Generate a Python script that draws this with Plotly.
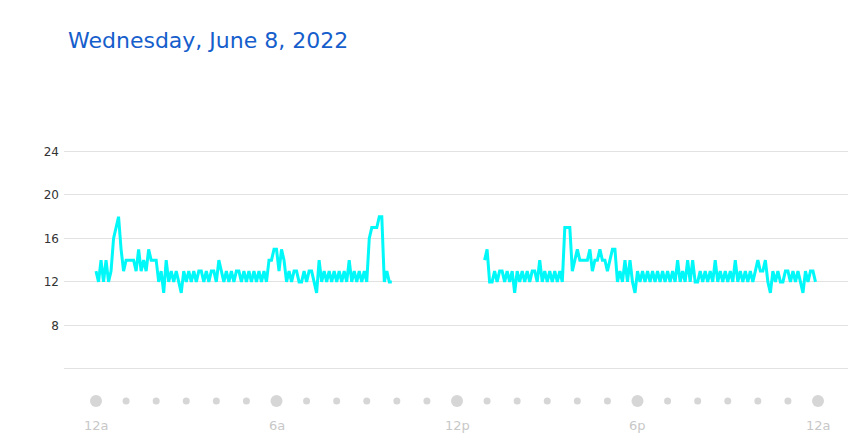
import plotly.graph_objects as go

# ---- data (5-minute readings) ----
seg1_start_hour = 0.0          # 12:00a
seg1_values = [
    13, 12, 14, 12, 14, 12, 13, 16, 17, 18,
    15, 13, 14, 14, 14, 14, 13, 15, 13, 14,
    13, 15, 14, 14, 14, 12, 13, 11, 14, 12,
    13, 12, 13, 12, 11, 13, 12, 13, 12, 13,
    12, 13, 13, 12, 13, 12, 13, 13, 12, 14,
    13, 12, 13, 12, 13, 12, 13, 13, 12, 13,
    12, 13, 12, 13, 12, 13, 12, 13, 12, 14,
    14, 15, 15, 13, 15, 14, 12, 13, 12, 13,
    13, 12, 12, 13, 12, 13, 13, 12, 11, 14,
    12, 13, 12, 13, 12, 13, 12, 13, 12, 13,
    12, 14, 12, 13, 12, 13, 12, 13, 12, 16,
    17, 17, 17, 18, 18, 12, 13, 12, 12,
]
seg2_start_hour = 12 + 55 / 60  # 12:55p
seg2_values = [
    14, 15, 12, 12, 13, 12, 13, 13, 12, 13,
    12, 13, 11, 13, 12, 13, 12, 13, 12, 13,
    13, 12, 14, 12, 13, 12, 13, 12, 13, 12,
    13, 12, 17, 17, 17, 13, 14, 15, 14, 14,
    14, 14, 15, 13, 14, 14, 15, 14, 14, 13,
    14, 15, 15, 12, 13, 12, 14, 12, 14, 12,
    11, 13, 12, 13, 12, 13, 12, 13, 12, 13,
    12, 13, 12, 13, 12, 13, 12, 14, 12, 13,
    12, 14, 12, 14, 12, 12, 13, 12, 13, 12,
    13, 12, 14, 12, 13, 12, 13, 12, 13, 12,
    14, 12, 13, 12, 13, 12, 13, 12, 13, 14,
    13, 13, 14, 12, 11, 13, 12, 13, 12, 12,
    13, 13, 12, 13, 12, 13, 12, 11, 13, 12,
    13, 13, 12,
]
step_hours = 5 / 60

y_tick_vals = [4, 8, 12, 16, 20, 24]
y_tick_text = ["", "8", "12", "16", "20", "24"]

hour_dots = list(range(0, 25))
hour_label_vals = [0, 6, 12, 18, 24]
hour_label_text = ["12a", "6a", "12p", "6p", "12a"]

title_text = "Wednesday, June 8, 2022"

# ---- build x positions from start times ----
x1 = [seg1_start_hour + i * step_hours for i in range(len(seg1_values))]
x2 = [seg2_start_hour + i * step_hours for i in range(len(seg2_values))]
xs = x1 + [None] + x2
ys = seg1_values + [None] + seg2_values

W, H = 858, 440
L, R = 64, 10
x_range = [-1.064, 24.997]

def py(Y):
    return 1 - Y / H

fig = go.Figure()
fig.add_trace(go.Scatter(
    x=xs, y=ys, mode="lines",
    line=dict(color="#00f8f8", width=3),
    connectgaps=False, hoverinfo="skip", showlegend=False,
    xaxis="x", yaxis="y",
))

dot_sizes = [12 if h % 6 == 0 else 7 for h in hour_dots]
fig.add_trace(go.Scatter(
    x=hour_dots, y=[0.5909] * len(hour_dots), mode="markers",
    marker=dict(size=dot_sizes, color="#c4c4c4", line=dict(width=0)),
    hoverinfo="skip", showlegend=False,
    xaxis="x2", yaxis="y2",
))

annotations = [
    dict(text=title_text, xref="paper", yref="paper",
         x=(66 - L) / (W - L - R), y=py(40), xanchor="left", yanchor="middle",
         showarrow=False, font=dict(family="DejaVu Sans", size=22, color="#155ecc")),
]
for v, t in zip(hour_label_vals, hour_label_text):
    annotations.append(dict(text=t, xref="x2", yref="paper", x=v, y=py(425),
                            xanchor="center", yanchor="middle", showarrow=False,
                            font=dict(family="DejaVu Sans", size=13, color="#c8c8c8")))

fig.update_layout(
    width=W, height=H,
    margin=dict(l=L, r=R, t=0, b=0),
    paper_bgcolor="white", plot_bgcolor="white",
    xaxis=dict(range=x_range, showgrid=False, zeroline=False, showticklabels=False,
               showline=False, domain=[0, 1], anchor="y"),
    yaxis=dict(range=[3.9, 26], domain=[py(370), py(129.75)],
               tickvals=y_tick_vals, ticktext=y_tick_text,
               showgrid=True, gridcolor="#e2e2e2", gridwidth=1, zeroline=False,
               showline=False, ticks="", ticklabelstandoff=4,
               tickfont=dict(family="DejaVu Sans", size=12, color="#333333")),
    xaxis2=dict(range=x_range, showgrid=False, zeroline=False, showticklabels=False,
                showline=False, domain=[0, 1], anchor="y2"),
    yaxis2=dict(range=[0, 1], domain=[0, 0.15], showgrid=False, zeroline=False,
                showticklabels=False, showline=False),
    annotations=annotations,
)

fig.write_html("out.html")
